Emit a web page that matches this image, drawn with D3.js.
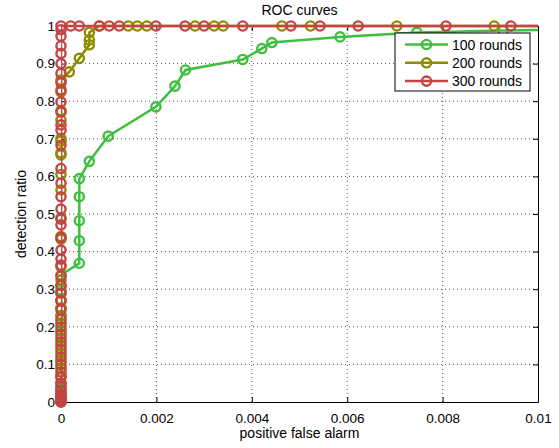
<!DOCTYPE html>
<html><head><meta charset="utf-8">
<script src="https://cdn.jsdelivr.net/npm/d3@7"></script>
<style>body{margin:0;background:#fff}svg{display:block}text{font-family:"Liberation Sans",Arial,Helvetica,sans-serif;fill:#000}</style>
</head><body><svg id="c" width="559" height="448"></svg>
<script>
const xTicks = [0, 0.002, 0.004, 0.006, 0.008, 0.01];
const xTickLabels = ["0", "0.002", "0.004", "0.006", "0.008", "0.01"];
const yTicks = [0, 0.1, 0.2, 0.3, 0.4, 0.5, 0.6, 0.7, 0.8, 0.9, 1];
const yTickLabels = ["0", "0.1", "0.2", "0.3", "0.4", "0.5", "0.6", "0.7", "0.8", "0.9", "1"];
const seriesNames = ["100 rounds", "200 rounds", "300 rounds"];

const fa100 = [0,0,0,0,0,0,0,0,0,0,0,0,0,0,0,0,0,0,
  0.000384,0.000384,0.000384,0.000384,0.000384,0.000594,0.00099,0.00199,0.00239,0.00261,
  0.00381,0.00421,0.00442,0.00585,0.00746,0.00927,0.0103];
const dr100 = [0,0.01,0.02,0.035,0.05,0.07,0.09,0.11,0.13,0.15,0.17,0.19,0.21,0.23,0.25,0.27,0.298,0.338,
  0.369,0.429,0.482,0.546,0.594,0.640,0.707,0.785,0.840,0.883,
  0.911,0.940,0.956,0.971,0.983,0.988,0.99];

const fa200 = [0,0,0,0,0,0,0,0,0,0,0,0,0,0,0,0,0,0,0,0,0,0,0,0,0,0,0,0,0,0,0,0,0,0,
  0.000174,0.000384,0.000594,0.000594,0.000594,0.000803,0.00141,0.0016,0.0018,0.00281,0.00321,0.0034,
  0.00463,0.00523,0.00704,0.00908,0.0103];
const dr200 = [0,0.005,0.01,0.02,0.03,0.05,0.07,0.09,0.11,0.13,0.15,0.17,0.19,0.21,0.23,0.25,0.27,0.29,0.31,0.325,
  0.36,0.433,0.44,0.49,0.564,0.605,0.657,0.663,0.694,0.701,0.75,0.775,0.825,0.856,
  0.878,0.914,0.950,0.963,0.983,1,1,1,1,1,1,1,
  1,1,1,1,1];

const fa300 = [0,0,0,0,0,0,0,0,0,0,0,0,0,0,0,0,0,0,0,0,0,0,0,0,0,0,0,0,0,0,0,0,0,0,0,0,0,0,0,0,0,0,0,0,0,0,0,
  0.000203,0.000384,0.000803,0.00101,0.00122,0.00199,0.0026,0.0030,0.00381,0.00482,0.00543,0.00623,0.00807,0.00943,0.0103];
const dr300 = [0,0.003,0.006,0.01,0.015,0.02,0.03,0.04,0.05,0.065,0.08,0.1,0.12,0.14,0.16,0.18,0.2,0.22,0.245,0.27,0.29,0.31,
  0.335,0.364,0.38,0.404,0.438,0.471,0.486,0.513,0.546,0.582,0.621,0.683,0.723,0.737,0.771,0.798,0.83,0.849,0.874,0.900,
  0.927,0.947,0.973,0.99,1,
  1,1,1,1,1,1,1,1,1,1,1,1,1,1,1];

const colors = ["#3fbf3f", "#8c8c00", "#c44343"];

const svg = d3.select("#c");
const m = {l: 61, r: 21, t: 26, b: 46};
const W = 559, H = 448;
const x = d3.scaleLinear().domain([0, 0.01]).range([m.l, W - m.r]);
const y = d3.scaleLinear().domain([0, 1]).range([H - m.b, m.t]);

svg.append("defs").append("clipPath").attr("id", "clip")
  .append("rect").attr("x", m.l).attr("y", m.t - 6).attr("width", W - m.r - m.l).attr("height", H - m.b - m.t + 12);

// grid
const g = svg.append("g");
g.selectAll(".gx").data(xTicks.slice(1, -1)).join("line")
  .attr("x1", d => x(d)).attr("x2", d => x(d)).attr("y1", y(0)).attr("y2", y(1))
  .attr("stroke", "#555").attr("stroke-width", 1).attr("stroke-dasharray", "1,3");
g.selectAll(".gy").data(yTicks.slice(1, -1)).join("line")
  .attr("y1", d => y(d)).attr("y2", d => y(d)).attr("x1", x(0)).attr("x2", x(0.01))
  .attr("stroke", "#555").attr("stroke-width", 1).attr("stroke-dasharray", "1,3");

// axes
const xAxis = d3.axisBottom(x).tickValues(xTicks).tickFormat((d, i) => xTickLabels[i]).tickSizeInner(-5).tickSizeOuter(0).tickPadding(11);
const yAxis = d3.axisLeft(y).tickValues(yTicks).tickFormat((d, i) => yTickLabels[i]).tickSizeInner(-5).tickSizeOuter(0).tickPadding(6);
const ax = svg.append("g").attr("transform", `translate(0,${y(0)})`).call(xAxis);
const ay = svg.append("g").attr("transform", `translate(${x(0)},0)`).call(yAxis);
const axT = svg.append("g").attr("transform", `translate(0,${y(1)})`).call(d3.axisTop(x).tickValues(xTicks).tickFormat("").tickSizeInner(-5).tickSizeOuter(0));
const ayR = svg.append("g").attr("transform", `translate(${x(0.01)},0)`).call(d3.axisRight(y).tickValues(yTicks).tickFormat("").tickSizeInner(-5).tickSizeOuter(0));
[ax, ay, axT, ayR].forEach(a => {
  a.select(".domain").attr("stroke", "#000").attr("stroke-width", 1);
  a.selectAll(".tick line").attr("stroke", "#000");
  a.selectAll("text").style("font-size", "13.5px").attr("fill", "#000");
});

// series
const series = [[fa100, dr100], [fa200, dr200], [fa300, dr300]];
const line = d3.line().x(d => x(d[0])).y(d => y(d[1]));
series.forEach((s, i) => {
  const pts = s[0].map((v, k) => [v, s[1][k]]);
  svg.append("path").datum(pts).attr("d", line).attr("fill", "none")
    .attr("stroke", colors[i]).attr("stroke-width", 2.5).attr("clip-path", "url(#clip)");
  svg.append("g").selectAll("circle").data(pts.filter(p => p[0] <= 0.01)).join("circle")
    .attr("cx", d => x(d[0])).attr("cy", d => y(d[1])).attr("r", 4.6)
    .attr("fill", "none").attr("stroke", colors[i]).attr("stroke-width", 2.4);
});

// title / labels
svg.append("text").attr("x", (x(0) + x(0.01)) / 2).attr("y", 15).attr("text-anchor", "middle")
  .style("font-size", "14px").text("ROC curves");
svg.append("text").attr("x", (x(0) + x(0.01)) / 2).attr("y", 438).attr("text-anchor", "middle")
  .style("font-size", "14px").text("positive false alarm");
svg.append("text").attr("transform", `translate(26,${(y(0) + y(1)) / 2}) rotate(-90)`).attr("text-anchor", "middle")
  .style("font-size", "14px").text("detection ratio");

// legend
const lg = svg.append("g");
lg.append("rect").attr("x", 395).attr("y", 33).attr("width", 135).attr("height", 58)
  .attr("fill", "#fff").attr("stroke", "#000").attr("stroke-width", 1);
seriesNames.forEach((n, i) => {
  const yy = 44.5 + i * 18.3;
  lg.append("line").attr("x1", 405).attr("x2", 448).attr("y1", yy).attr("y2", yy)
    .attr("stroke", colors[i]).attr("stroke-width", 2.5);
  lg.append("circle").attr("cx", 426.5).attr("cy", yy).attr("r", 4.6).attr("fill", "none")
    .attr("stroke", colors[i]).attr("stroke-width", 2.4);
  lg.append("text").attr("x", 452).attr("y", yy + 5).style("font-size", "14px").text(n);
});
</script></body></html>
